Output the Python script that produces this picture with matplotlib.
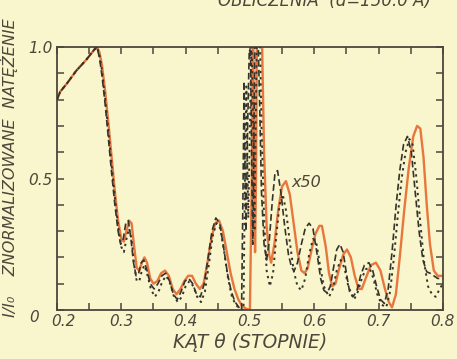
import matplotlib.pyplot as plt
from matplotlib.ticker import MultipleLocator, FixedLocator
from matplotlib.transforms import ScaledTranslation

# kolory
bg = '#f9f5cc'
ink = '#4a473c'
orange = '#e8763f'
black = '#35342c'

# pomiar - linia ciagla (pomaranczowa)
th_orange = [0.200, 0.205, 0.215, 0.230, 0.245, 0.258, 0.262, 0.266, 0.270, 0.275,
             0.280, 0.285, 0.290, 0.295, 0.300, 0.304, 0.308, 0.312, 0.316, 0.320,
             0.324, 0.328, 0.332, 0.336, 0.340, 0.345, 0.350, 0.356, 0.362, 0.368,
             0.374, 0.380, 0.386, 0.392, 0.398, 0.404, 0.410, 0.416, 0.422, 0.428,
             0.434, 0.440, 0.446, 0.452, 0.458, 0.464, 0.470, 0.476, 0.482, 0.488,
             0.494, 0.500,
             0.503, 0.505, 0.5065, 0.508, 0.5095, 0.511, 0.516, 0.519, 0.522, 0.526,
             0.530, 0.533, 0.538, 0.544, 0.550, 0.556, 0.562, 0.568, 0.574, 0.580,
             0.585, 0.590, 0.596, 0.602, 0.608, 0.612, 0.618, 0.623, 0.628, 0.633,
             0.638, 0.645, 0.651, 0.657, 0.663, 0.669, 0.674, 0.680, 0.688, 0.696,
             0.703, 0.710, 0.716, 0.721, 0.727, 0.733, 0.740, 0.747, 0.754, 0.760,
             0.765, 0.770, 0.775, 0.780, 0.786, 0.792, 0.800]
I_orange = [0.80, 0.83, 0.86, 0.91, 0.95, 0.99, 1.00, 0.98, 0.93, 0.83,
            0.71, 0.58, 0.45, 0.34, 0.27, 0.26, 0.30, 0.34, 0.33, 0.24,
            0.16, 0.15, 0.18, 0.20, 0.18, 0.12, 0.10, 0.11, 0.14, 0.15,
            0.13, 0.08, 0.06, 0.08, 0.11, 0.13, 0.13, 0.10, 0.08, 0.10,
            0.18, 0.27, 0.33, 0.34, 0.30, 0.22, 0.14, 0.08, 0.04, 0.015,
            0.005, 0.0,
            0.5, 1.1, 0.5, 0.22, 0.5, 1.1, 1.2, 1.0, 0.6, 0.32,
            0.21, 0.18, 0.25, 0.38, 0.47, 0.49, 0.44, 0.33, 0.22, 0.15,
            0.14, 0.16, 0.23, 0.29, 0.32, 0.32, 0.24, 0.14, 0.09, 0.10,
            0.15, 0.21, 0.23, 0.20, 0.13, 0.08, 0.08, 0.12, 0.17, 0.18,
            0.15, 0.08, 0.03, 0.01, 0.06, 0.20, 0.38, 0.54, 0.66, 0.70,
            0.69, 0.58, 0.40, 0.25, 0.15, 0.13, 0.13]

# obliczenia - linia kreskowana
th_dash = [0.200, 0.205, 0.215, 0.230, 0.245, 0.258, 0.262, 0.266, 0.270, 0.275,
           0.280, 0.285, 0.290, 0.295, 0.299, 0.303, 0.307, 0.311, 0.315, 0.319,
           0.323, 0.327, 0.331, 0.335, 0.340, 0.345, 0.351, 0.357, 0.363, 0.369,
           0.375, 0.381, 0.387, 0.393, 0.399, 0.405, 0.411, 0.417, 0.423, 0.429,
           0.435, 0.441, 0.447, 0.453, 0.459, 0.465, 0.471, 0.477, 0.483, 0.487,
           0.4895, 0.491, 0.4925, 0.494, 0.4965, 0.499, 0.501, 0.503, 0.5045, 0.506,
           0.508, 0.512, 0.515, 0.518, 0.522, 0.526, 0.530, 0.535, 0.539, 0.543,
           0.548, 0.554, 0.560, 0.565, 0.569, 0.574, 0.580, 0.586, 0.592, 0.598,
           0.604, 0.610, 0.615, 0.620, 0.625, 0.630, 0.635, 0.640, 0.645, 0.650,
           0.655, 0.660, 0.666, 0.672, 0.678, 0.685, 0.691, 0.697, 0.703, 0.709,
           0.715, 0.721, 0.727, 0.733, 0.739, 0.745, 0.751, 0.757, 0.763, 0.769,
           0.775, 0.780, 0.786, 0.792, 0.800]
I_dash = [0.80, 0.83, 0.86, 0.91, 0.95, 0.99, 1.00, 0.96, 0.89, 0.78,
          0.65, 0.52, 0.40, 0.30, 0.25, 0.27, 0.33, 0.34, 0.27, 0.18,
          0.13, 0.14, 0.18, 0.19, 0.15, 0.10, 0.08, 0.10, 0.13, 0.14,
          0.11, 0.06, 0.04, 0.07, 0.11, 0.12, 0.10, 0.06, 0.05, 0.10,
          0.20, 0.30, 0.35, 0.33, 0.24, 0.14, 0.07, 0.03, 0.01, 0.0,
          0.5, 0.87, 0.5, 0.30, 0.7, 0.99, 0.98, 0.5, 0.25, 0.6,
          1.1, 1.1, 0.8, 0.45, 0.25, 0.19, 0.26, 0.42, 0.52, 0.53,
          0.45, 0.32, 0.21, 0.16, 0.15, 0.18, 0.25, 0.31, 0.33, 0.31,
          0.22, 0.12, 0.075, 0.065, 0.09, 0.16, 0.23, 0.25, 0.22, 0.14,
          0.07, 0.05, 0.07, 0.13, 0.17, 0.18, 0.15, 0.09, 0.04, 0.025,
          0.08, 0.22, 0.39, 0.53, 0.63, 0.66, 0.60, 0.45, 0.30, 0.19,
          0.145, 0.14, 0.13, 0.12, 0.12]

# obliczenia - linia kropkowana
th_dot = [0.200, 0.205, 0.215, 0.230, 0.245, 0.258, 0.262, 0.266, 0.270, 0.275,
          0.280, 0.285, 0.290, 0.295, 0.300, 0.304, 0.308, 0.312, 0.316, 0.320,
          0.324, 0.328, 0.332, 0.336, 0.341, 0.346, 0.352, 0.358, 0.364, 0.370,
          0.376, 0.382, 0.388, 0.394, 0.400, 0.406, 0.412, 0.418, 0.424, 0.430,
          0.436, 0.442, 0.448, 0.454, 0.460, 0.466, 0.472, 0.478, 0.484, 0.490,
          0.4925, 0.4945, 0.496, 0.4975, 0.500, 0.5025, 0.505, 0.507, 0.509, 0.511,
          0.515, 0.518, 0.522, 0.526, 0.531, 0.536, 0.541, 0.546, 0.551, 0.556,
          0.562, 0.568, 0.574, 0.580, 0.586, 0.592, 0.598, 0.603, 0.609, 0.615,
          0.623, 0.629, 0.635, 0.641, 0.647, 0.653, 0.662, 0.668, 0.674, 0.680,
          0.686, 0.692, 0.698, 0.705, 0.712, 0.718, 0.724, 0.730, 0.736, 0.742,
          0.748, 0.753, 0.759, 0.765, 0.771, 0.777, 0.783, 0.789, 0.795, 0.800]
I_dot = [0.80, 0.83, 0.86, 0.91, 0.95, 0.99, 1.00, 0.97, 0.91, 0.80,
         0.68, 0.55, 0.43, 0.32, 0.24, 0.22, 0.27, 0.31, 0.27, 0.17,
         0.11, 0.11, 0.15, 0.17, 0.13, 0.08, 0.05, 0.07, 0.11, 0.13,
         0.10, 0.05, 0.03, 0.05, 0.09, 0.11, 0.09, 0.05, 0.03, 0.07,
         0.17, 0.28, 0.33, 0.31, 0.22, 0.12, 0.05, 0.02, 0.005, 0.0,
         0.55, 0.85, 0.55, 0.35, 0.7, 1.05, 0.7, 0.3, 0.7, 1.1,
         1.1, 0.7, 0.35, 0.15, 0.09, 0.14, 0.28, 0.40, 0.44, 0.38,
         0.26, 0.15, 0.09, 0.075, 0.12, 0.21, 0.27, 0.26, 0.17, 0.09,
         0.05, 0.08, 0.15, 0.19, 0.16, 0.09, 0.04, 0.07, 0.12, 0.155,
         0.16, 0.12, 0.06, 0.02, 0.01, 0.07, 0.20, 0.36, 0.50, 0.60,
         0.65, 0.63, 0.50, 0.33, 0.18, 0.09, 0.06, 0.05, 0.08, 0.10]

x_ticks = [0.2, 0.3, 0.4, 0.5, 0.6, 0.7, 0.8]
x_labels = ['0.2', '0.3', '0.4', '0.5', '0.6', '0.7', '0.8']
y_ticks = [0, 0.5, 1.0]
y_labels = ['0', '0.5', '1.0']

plt.rcParams['font.family'] = ['DejaVu Sans']
plt.rcParams['font.style'] = 'italic'

fig = plt.figure(figsize=(4.57, 3.59), dpi=100, facecolor=bg)
ax = fig.add_axes([0.1247, 0.1365, 0.8443, 0.7325], facecolor=bg)

ax.plot(th_orange, I_orange, color=orange, lw=1.7, zorder=2)
ax.plot(th_dash, I_dash, color=black, lw=1.2, dashes=(4, 2), zorder=3)
ax.plot(th_dot, I_dot, color=black, lw=1.4, dashes=(1.2, 2), zorder=3)

ax.set_xlim(0.2, 0.8)
ax.set_ylim(0, 1.0)

ax.xaxis.set_major_locator(FixedLocator(x_ticks))
ax.set_xticklabels(x_labels)
ax.xaxis.set_minor_locator(MultipleLocator(0.05))
ax.yaxis.set_major_locator(FixedLocator(y_ticks))
ax.set_yticklabels(y_labels)
ax.yaxis.set_minor_locator(MultipleLocator(0.1))

ax.tick_params(which='both', direction='in', top=True, right=True,
               length=5, width=1.1, color=ink, labelcolor=ink, labelsize=11, pad=3)
for s in ax.spines.values():
    s.set_color(ink)
    s.set_linewidth(1.3)

# "0" na osi y lezy nizej i bardziej w lewo, a "0.2" troche w prawo
ylab0 = ax.get_yticklabels()[0]
ylab0.set_transform(ylab0.get_transform() + ScaledTranslation(-0.14, -0.06, fig.dpi_scale_trans))
xlab0 = ax.get_xticklabels()[0]
xlab0.set_transform(xlab0.get_transform() + ScaledTranslation(0.06, 0, fig.dpi_scale_trans))

ax.set_xlabel('KĄT θ (STOPNIE)', fontsize=13.5, color=ink, labelpad=3)
ax.set_ylabel('I/I₀    ZNORMALIZOWANE  NATĘŻENIE', fontsize=11.5, color=ink)
ax.yaxis.set_label_coords(-0.1, 0.54)

ax.text(0.564, 0.485, 'x50', fontsize=11.5, color=ink, va='center')

# tytul, obciety u gory skanu
fig.text(0.71, 1 - 6 / 359, 'OBLICZENIA  (d=150.0 Å)', fontsize=12, color=ink,
         ha='center', va='baseline')

fig.savefig('out.png', dpi=100, facecolor=bg)
